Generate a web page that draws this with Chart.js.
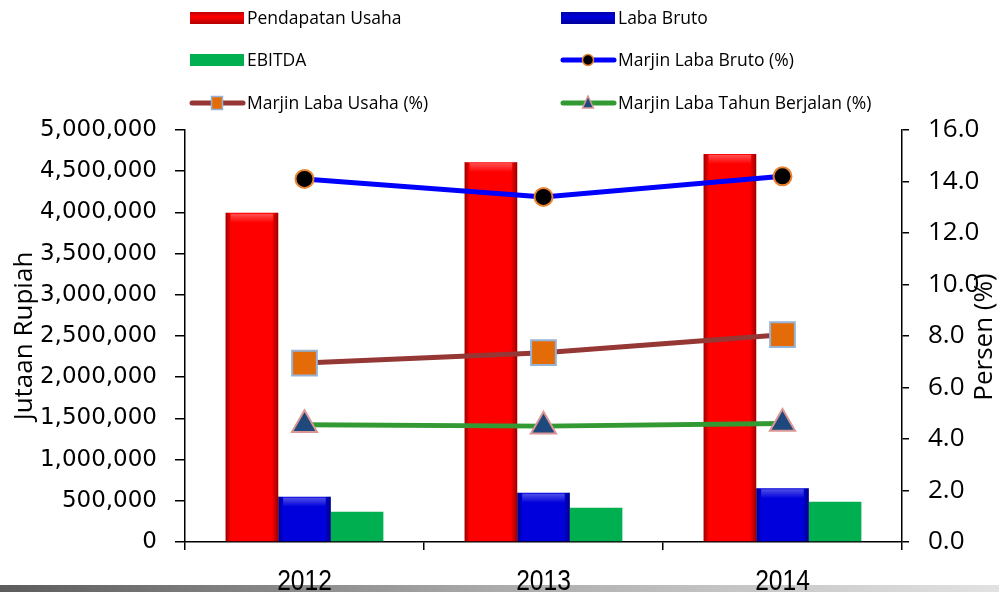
<!DOCTYPE html>
<html>
<head>
<meta charset="utf-8">
<script src="https://cdn.jsdelivr.net/npm/chart.js@4.4.1/dist/chart.umd.min.js"></script>
<style>
  html, body { margin: 0; padding: 0; background: #fff; }
  canvas { display: block; }
</style>
</head>
<body>
<canvas id="kinerjaChart" width="999" height="592"></canvas>
<script>
// data
const years = ["2012", "2013", "2014"];
const pendapatanUsaha = [3995000, 4610000, 4710000];
const labaBruto = [550000, 598000, 652000];
const ebitda = [368000, 416000, 488000];
const marjinLabaBruto = [14.1, 13.4, 14.2];
const marjinLabaUsaha = [6.95, 7.35, 8.05];
const marjinLabaTahunBerjalan = [4.55, 4.5, 4.6];
const rupiahTicks = [0, 500000, 1000000, 1500000, 2000000, 2500000, 3000000, 3500000, 4000000, 4500000, 5000000];
const persenTicks = [0, 2, 4, 6, 8, 10, 12, 14, 16];

Chart.defaults.color = '#000';
Chart.defaults.font.family = 'Open Sans';

function drawKey(ctx, ds, x, y) {
  ctx.save();
  if (ds.type === 'bar') {
    ctx.fillStyle = ds.backgroundColor;
    ctx.fillRect(x, y - 6, 54, 12);
    if (ds.shade) {
      let g = ctx.createLinearGradient(0, y - 6, 0, y + 6);
      g.addColorStop(0, 'rgba(0,0,0,0.25)');
      g.addColorStop(0.4, 'rgba(0,0,0,0)');
      g.addColorStop(1, 'rgba(0,0,0,0.3)');
      ctx.fillStyle = g;
      ctx.fillRect(x, y - 6, 54, 12);
    }
  } else {
    ctx.strokeStyle = ds.borderColor;
    ctx.lineWidth = 5;
    ctx.lineCap = 'round';
    ctx.beginPath();
    ctx.moveTo(x + 2, y);
    ctx.lineTo(x + 53, y);
    ctx.stroke();
    let cx = x + 27;
    ctx.fillStyle = ds.pointBackgroundColor;
    ctx.strokeStyle = ds.pointBorderColor;
    ctx.lineWidth = 1.5;
    ctx.beginPath();
    if (ds.pointStyle === 'circle') {
      ctx.arc(cx, y, 5.5, 0, Math.PI * 2);
    } else if (ds.pointStyle === 'rect') {
      ctx.rect(cx - 5.5, y - 6.5, 11, 13);
    } else {
      ctx.moveTo(cx, y - 7);
      ctx.lineTo(cx + 5.5, y + 5);
      ctx.lineTo(cx - 5.5, y + 5);
      ctx.closePath();
    }
    ctx.fill();
    ctx.stroke();
  }
  ctx.fillStyle = '#000';
  ctx.font = '17.5px "Open Sans"';
  ctx.textBaseline = 'middle';
  ctx.textAlign = 'left';
  ctx.fillText(ds.label, x + 57, y + 1);
  ctx.restore();
}

const decorPlugin = {
  id: 'decor',
  beforeDraw(chart) {
    const ctx = chart.ctx;
    ctx.save();
    ctx.fillStyle = '#fff';
    ctx.fillRect(0, 0, chart.width, chart.height);
    let g = ctx.createLinearGradient(0, 0, chart.width, 0);
    g.addColorStop(0, '#5c5c5c');
    g.addColorStop(0.5, '#ababab');
    g.addColorStop(1, '#e2e2e2');
    ctx.fillStyle = g;
    ctx.fillRect(0, 585, chart.width, 7);
    ctx.restore();
  },
  afterDatasetDraw(chart, args) {
    const ds = chart.data.datasets[args.index];
    if (ds.type !== 'bar' || !ds.shade) return;
    const ctx = chart.ctx;
    ctx.save();
    args.meta.data.forEach(bar => {
      const left = bar.x - bar.width / 2, w = bar.width;
      const top = bar.y, h = bar.base - bar.y;
      let g = ctx.createLinearGradient(left, 0, left + w, 0);
      g.addColorStop(0, 'rgba(0,0,0,0.4)');
      g.addColorStop(0.1, 'rgba(0,0,0,0)');
      g.addColorStop(0.88, 'rgba(0,0,0,0)');
      g.addColorStop(1, 'rgba(0,0,0,0.4)');
      ctx.fillStyle = g;
      ctx.fillRect(left, top, w, h);
      let t = ctx.createLinearGradient(0, top, 0, top + 10);
      t.addColorStop(0, 'rgba(255,255,255,0.35)');
      t.addColorStop(1, 'rgba(255,255,255,0)');
      ctx.fillStyle = t;
      ctx.fillRect(left + 5, top + 1, w - 10, 9);
    });
    ctx.restore();
  },
  afterDraw(chart) {
    const ctx = chart.ctx;
    const ds = chart.data.datasets;
    // legend in two columns, as in the original
    drawKey(ctx, ds[0], 190, 18);
    drawKey(ctx, ds[2], 190, 60);
    drawKey(ctx, ds[4], 190, 103);
    drawKey(ctx, ds[1], 561, 18);
    drawKey(ctx, ds[3], 561, 60);
    drawKey(ctx, ds[5], 561, 103);

    // category labels, narrow like the original
    const xs = chart.scales.x;
    ctx.save();
    ctx.font = '30px "Liberation Sans"';
    ctx.textAlign = 'center';
    ctx.textBaseline = 'alphabetic';
    ctx.fillStyle = '#000';
    chart.data.labels.forEach((lab, i) => {
      ctx.save();
      ctx.translate(xs.getPixelForValue(i), 590);
      ctx.scale(0.82, 1);
      ctx.fillText(lab, 0, 0);
      ctx.restore();
    });
    ctx.restore();

    // axis titles
    ctx.save();
    ctx.font = '26px "Open Sans"';
    ctx.textAlign = 'center';
    ctx.textBaseline = 'middle';
    ctx.fillStyle = '#000';
    ctx.translate(25, 336);
    ctx.rotate(-Math.PI / 2);
    ctx.fillText('Jutaan Rupiah', 0, 0);
    ctx.restore();
    ctx.save();
    ctx.font = '26px "Open Sans"';
    ctx.textAlign = 'center';
    ctx.textBaseline = 'middle';
    ctx.fillStyle = '#000';
    ctx.translate(985, 337);
    ctx.rotate(-Math.PI / 2);
    ctx.fillText('Persen (%)', 0, 0);
    ctx.restore();
  }
};

new Chart(document.getElementById('kinerjaChart'), {
  type: 'bar',
  data: {
    labels: years,
    datasets: [{
      type: 'bar',
      label: 'Pendapatan Usaha',
      data: pendapatanUsaha,
      backgroundColor: '#ff0000',
      shade: true,
      yAxisID: 'y',
      order: 1
    }, {
      type: 'bar',
      label: 'Laba Bruto',
      data: labaBruto,
      backgroundColor: '#0000dd',
      shade: true,
      yAxisID: 'y',
      order: 1
    }, {
      type: 'bar',
      label: 'EBITDA',
      data: ebitda,
      backgroundColor: '#00b050',
      yAxisID: 'y',
      order: 1
    }, {
      type: 'line',
      label: 'Marjin Laba Bruto (%)',
      data: marjinLabaBruto,
      yAxisID: 'y1',
      borderColor: '#0000ff',
      borderWidth: 5,
      pointStyle: 'circle',
      pointRadius: 9,
      pointBackgroundColor: '#000',
      pointBorderColor: '#e8842f',
      pointBorderWidth: 2,
      order: 0
    }, {
      type: 'line',
      label: 'Marjin Laba Usaha (%)',
      data: marjinLabaUsaha,
      yAxisID: 'y1',
      borderColor: '#953735',
      borderWidth: 5,
      pointStyle: 'rect',
      pointRadius: 17.5,
      pointBackgroundColor: '#e36c09',
      pointBorderColor: '#95b3d7',
      pointBorderWidth: 2,
      order: 0
    }, {
      type: 'line',
      label: 'Marjin Laba Tahun Berjalan (%)',
      data: marjinLabaTahunBerjalan,
      yAxisID: 'y1',
      borderColor: '#339933',
      borderWidth: 5,
      pointStyle: 'triangle',
      pointRadius: 14.5,
      pointBackgroundColor: '#1f497d',
      pointBorderColor: '#d99694',
      pointBorderWidth: 2,
      order: 0
    }]
  },
  options: {
    responsive: false,
    animation: false,
    devicePixelRatio: 1,
    layout: { padding: { top: 130, left: 0, right: 0, bottom: 0 } },
    plugins: {
      legend: { display: false },
      tooltip: { enabled: false }
    },
    datasets: {
      bar: { categoryPercentage: 0.66, barPercentage: 1.0 }
    },
    scales: {
      x: {
        grid: { display: true, drawOnChartArea: false, drawTicks: true, tickLength: 8, color: '#000', lineWidth: 1.5 },
        border: { display: true, color: '#000', width: 1.5 },
        ticks: { display: false },
        afterFit: s => { s.height = 50; }
      },
      y: {
        position: 'left',
        min: 0,
        max: 5000000,
        afterBuildTicks: axis => { axis.ticks = rupiahTicks.map(v => ({ value: v })); },
        grid: { display: true, drawOnChartArea: false, drawTicks: true, tickLength: 10, color: '#000', lineWidth: 1.5 },
        border: { display: true, color: '#000', width: 1.5 },
        ticks: {
          padding: 18,
          font: { family: '"DejaVu Sans"', size: 23 },
          callback: v => v.toLocaleString('en-US')
        },
        afterFit: s => { s.width = 185; }
      },
      y1: {
        position: 'right',
        min: 0,
        max: 16,
        afterBuildTicks: axis => { axis.ticks = persenTicks.map(v => ({ value: v })); },
        grid: { display: true, drawOnChartArea: false, drawTicks: true, tickLength: 7, color: '#000', lineWidth: 1.5 },
        border: { display: true, color: '#000', width: 1.5 },
        ticks: {
          padding: 19,
          font: { family: '"Open Sans"', size: 26 },
          callback: v => v.toFixed(1)
        },
        afterFit: s => { s.width = 97; }
      }
    }
  },
  plugins: [decorPlugin]
});
</script>
</body>
</html>
